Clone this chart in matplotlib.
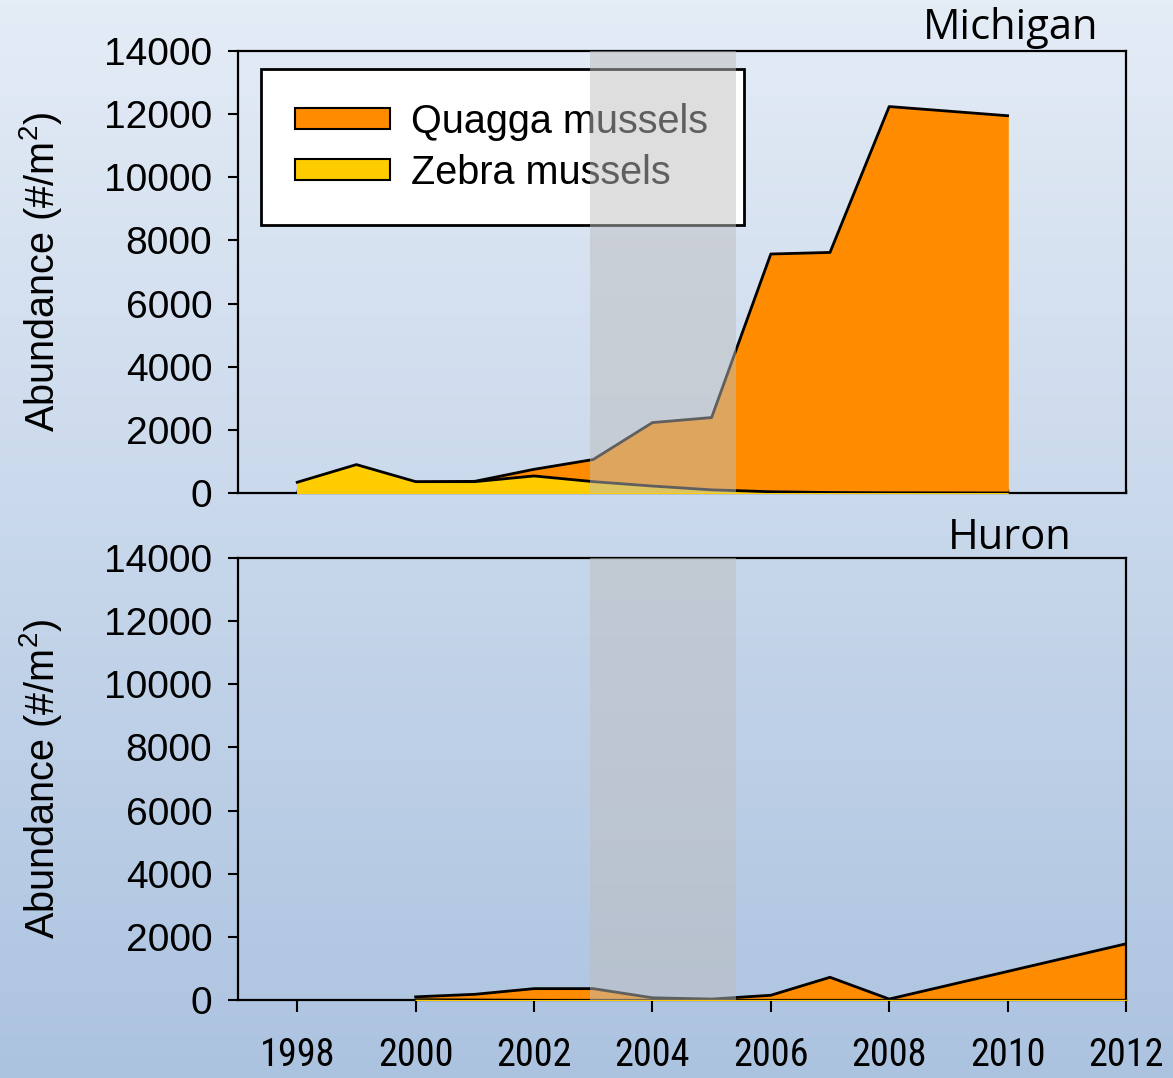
import numpy as np
import matplotlib
matplotlib.use("Agg")
import matplotlib.pyplot as plt
from matplotlib.patches import Patch
from matplotlib import font_manager

# ---------------- data ----------------
mi_years = [1998, 1999, 2000, 2001, 2002, 2003, 2004, 2005, 2006, 2007, 2008, 2010]
mi_quagga = [0, 0, 340, 370, 750, 1060, 2230, 2390, 7570, 7620, 12240, 11950]
mi_zebra = [340, 900, 360, 360, 540, 360, 220, 100, 40, 15, 5, 0]

hu_years = [2000, 2001, 2002, 2003, 2004, 2005, 2006, 2007, 2008, 2012]
hu_quagga = [100, 180, 360, 360, 70, 30, 150, 720, 30, 1780]
hu_zebra = [30, 20, 10, 5, 3, 2, 1, 1, 0, 0]

lake_titles = ["Michigan", "Huron"]
series_labels = ["Quagga mussels", "Zebra mussels"]
xtick_years = [1998, 2000, 2002, 2004, 2006, 2008, 2010, 2012]
ytick_vals = [0, 2000, 4000, 6000, 8000, 10000, 12000, 14000]
band = (2002.95, 2005.42)

# ---------------- style ----------------
plt.rcParams["font.family"] = ["Liberation Sans", "DejaVu Sans"]
plt.rcParams["mathtext.fontset"] = "custom"
plt.rcParams["mathtext.rm"] = "Liberation Sans"
plt.rcParams["mathtext.it"] = "Liberation Sans:italic"
plt.rcParams["mathtext.bf"] = "Liberation Sans:bold"

# look for an upright narrow / condensed face for the x tick labels
narrow = None
cands = []
for f in font_manager.fontManager.ttflist:
    nm = f.name.lower()
    is_narrow = ("narrow" in nm or "condensed" in nm or str(f.stretch) in ("condensed", "semi-condensed"))
    if is_narrow and "mono" not in nm and f.style == "normal" and f.weight in ("normal", 400, "regular", "book"):
        cands.append(f)
for pref in ["liberation sans narrow", "arimo", "roboto condensed", "open sans condensed", "dejavu sans"]:
    for f in cands:
        if f.name.lower().startswith(pref):
            narrow = f
            break
    if narrow is not None:
        break
if narrow is None and cands:
    narrow = cands[0]

QUAGGA = "#ff8c00"
ZEBRA = "#ffcc00"
LW = 2.0

W, H = 1173, 1078
fig = plt.figure(figsize=(W / 100, H / 100), dpi=100)

# gradient background
bg = fig.add_axes([0, 0, 1, 1], zorder=-10)
grad = np.linspace(0, 1, 256)[:, None]
top_c = np.array([228, 236, 246]) / 255
bot_c = np.array([172, 195, 224]) / 255
img = top_c[None, None, :] * (1 - grad[:, :, None]) + bot_c[None, None, :] * grad[:, :, None]
bg.imshow(np.repeat(img, 2, axis=1), aspect="auto", extent=[0, 1, 0, 1], origin="upper")
bg.set_axis_off()

left = 238 / W
width = (1126 - 238) / W
ax1 = fig.add_axes([left, 1 - 493 / H, width, (493 - 51) / H])
ax2 = fig.add_axes([left, 1 - 1000 / H, width, (1000 - 558) / H])

for ax in (ax1, ax2):
    ax.set_facecolor("none")
    ax.set_xlim(1997, 2012)
    ax.set_ylim(0, 14000)
    ax.set_yticks(ytick_vals)
    ax.set_yticklabels([str(v) for v in ytick_vals], fontsize=28)
    ax.tick_params(axis="y", direction="out", length=7.5, width=1.5, pad=11)
    for s in ax.spines.values():
        s.set_linewidth(1.6)
        s.set_color("black")
    ax.set_ylabel(r"Abundance (#/m$\mathregular{^2}$)", fontsize=28.5)
    ax.yaxis.set_label_coords(-0.196, 0.5)

# Michigan
ax1.fill_between(mi_years, mi_quagga, color=QUAGGA, zorder=2)
ax1.plot(mi_years, mi_quagga, color="black", lw=LW, zorder=3)
ax1.fill_between(mi_years, mi_zebra, color=ZEBRA, zorder=3)
ax1.plot(mi_years, mi_zebra, color="black", lw=LW, zorder=4)
ax1.set_xticks(xtick_years)
ax1.set_xticklabels([])
ax1.tick_params(axis="x", direction="in", length=3, width=1)

# Huron
ax2.fill_between(hu_years, hu_quagga, color=QUAGGA, zorder=2)
ax2.plot(hu_years, hu_quagga, color="black", lw=LW, zorder=3)
ax2.fill_between(hu_years, hu_zebra, color=ZEBRA, zorder=3)
ax2.plot(hu_years, hu_zebra, color="black", lw=1.0, zorder=4)
ax2.set_xticks(xtick_years)
labels = ax2.set_xticklabels([str(y) for y in xtick_years])
if narrow is not None:
    for t in labels:
        t.set_fontproperties(font_manager.FontProperties(fname=narrow.fname, size=27.5))
else:
    for t in labels:
        t.set_fontsize(25)
ax2.tick_params(axis="x", direction="out", length=8.6, width=1.5, pad=18)

# legend
handles = [Patch(facecolor=QUAGGA, edgecolor="black", lw=1.5),
           Patch(facecolor=ZEBRA, edgecolor="black", lw=1.5)]
x0 = (261 - 238) / 888
y1 = (493 - 69) / 442
lw_ = (744 - 261) / 888
leg = ax1.legend(handles, series_labels, loc="upper left",
                 bbox_to_anchor=(x0, y1 - 0.3, lw_, 0.3), mode="expand",
                 fontsize=28.5, frameon=True, fancybox=False, framealpha=1, edgecolor="black",
                 handlelength=2.4, handleheight=0.45, handletextpad=0.55, borderpad=0.85,
                 labelspacing=0.33, borderaxespad=0)
leg.get_frame().set_linewidth(2)
leg.set_zorder(5)

# translucent grey band over everything
for ax in (ax1, ax2):
    ax.axvspan(band[0], band[1], color="#bebebe", alpha=0.5, lw=0, zorder=10)

# lake titles
fig.text(1098 / W, 1 - 39 / H, lake_titles[0], ha="right", va="baseline", fontsize=30,
         family=["Open Sans", "DejaVu Sans"])
fig.text(1072 / W, 1 - 549 / H, lake_titles[1], ha="right", va="baseline", fontsize=30,
         family=["Open Sans", "DejaVu Sans"])

fig.savefig("out.png", dpi=100)
